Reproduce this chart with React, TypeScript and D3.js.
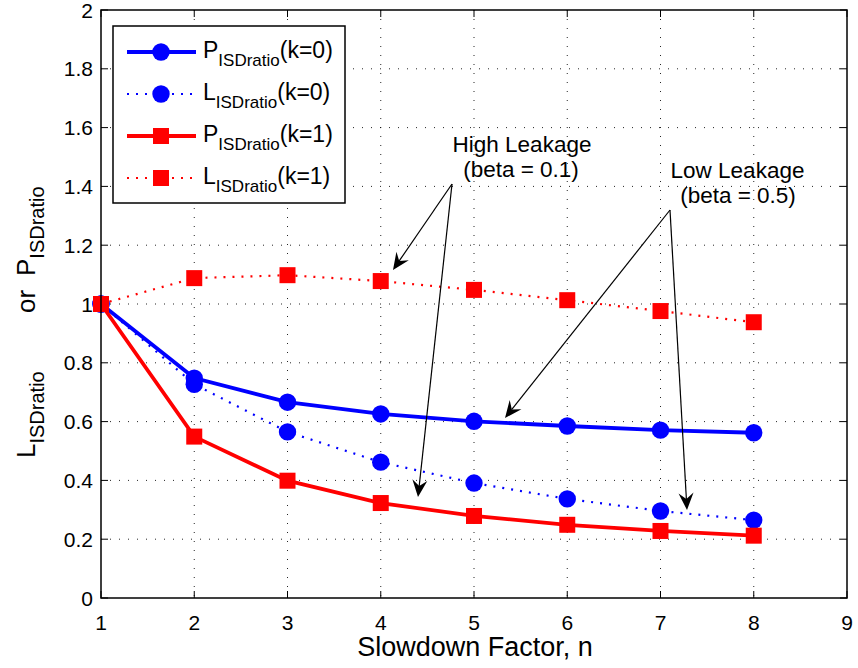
import React from "react";
import * as d3 from "d3";

const nValues = [1, 2, 3, 4, 5, 6, 7, 8];
const pK0 = [1, 0.748, 0.666, 0.626, 0.601, 0.585, 0.571, 0.562];
const lK0 = [1, 0.727, 0.565, 0.462, 0.391, 0.337, 0.296, 0.265];
const pK1 = [1, 0.549, 0.399, 0.323, 0.279, 0.249, 0.228, 0.212];
const lK1 = [1, 1.088, 1.098, 1.078, 1.048, 1.013, 0.976, 0.938];
const xTicks = [1, 2, 3, 4, 5, 6, 7, 8, 9];
const yTicks = [0, 0.2, 0.4, 0.6, 0.8, 1, 1.2, 1.4, 1.6, 1.8, 2];

const FONT = "Liberation Sans, Arial, Helvetica, sans-serif";

export default function App() {
  const W = 858, H = 668;
  const left = 101, right = 847, top = 10, bottom = 598;
  const x = d3.scaleLinear().domain([1, 9]).range([left, right]);
  const y = d3.scaleLinear().domain([0, 2]).range([bottom, top]);
  const line = d3.line<number>().x((_, i) => x(nValues[i])).y((d) => y(d));

  const series = [
    { vals: pK0, color: "#0000ff", dotted: false, marker: "circle", label: "P", k: "0" },
    { vals: lK0, color: "#0000ff", dotted: true, marker: "circle", label: "L", k: "0" },
    { vals: pK1, color: "#ff0000", dotted: false, marker: "square", label: "P", k: "1" },
    { vals: lK1, color: "#ff0000", dotted: true, marker: "square", label: "L", k: "1" },
  ];

  const marker = (m: string, cx: number, cy: number, color: string, key: any) =>
    m === "circle" ? (
      <circle key={key} cx={cx} cy={cy} r={8.7} fill={color} />
    ) : (
      <rect key={key} x={cx - 8} y={cy - 8} width={16} height={16} fill={color} />
    );

  const arrowHead = (x1: number, y1: number, x2: number, y2: number, key: string) => {
    const ang = Math.atan2(y2 - y1, x2 - x1);
    const L = 17, Wd = 7.5, notch = 11;
    const pt = (d: number, s: number) => {
      const px = x2 - d * Math.cos(ang) - s * Math.sin(ang);
      const py = y2 - d * Math.sin(ang) + s * Math.cos(ang);
      return `${px},${py}`;
    };
    return (
      <g key={key}>
        <line x1={x1} y1={y1} x2={x2 - notch * Math.cos(ang)} y2={y2 - notch * Math.sin(ang)} stroke="#000" strokeWidth={1.2} />
        <polygon points={`${x2},${y2} ${pt(L, Wd)} ${pt(notch, 0)} ${pt(L, -Wd)}`} fill="#000" />
      </g>
    );
  };

  const legendRows = [52, 94, 136, 178];

  return (
    <svg width={W} height={H} style={{ position: "absolute", left: 0, top: 0, background: "#fff" }} fontFamily={FONT}>
      <rect x={0} y={0} width={W} height={H} fill="#fff" />
      {/* grid */}
      {xTicks.slice(1, -1).map((t) => (
        <line key={"gx" + t} x1={x(t)} x2={x(t)} y1={top} y2={bottom} stroke="#000" strokeWidth={1} strokeDasharray="1,8" opacity={0.85} />
      ))}
      {yTicks.slice(1, -1).map((t) => (
        <line key={"gy" + t} x1={left} x2={right} y1={y(t)} y2={y(t)} stroke="#000" strokeWidth={1} strokeDasharray="1,8" opacity={0.85} />
      ))}
      {/* ticks */}
      {xTicks.map((t) => (
        <g key={"tx" + t}>
          <line x1={x(t)} x2={x(t)} y1={bottom} y2={bottom - 7} stroke="#000" />
          <line x1={x(t)} x2={x(t)} y1={top} y2={top + 7} stroke="#000" />
          <text x={x(t)} y={bottom + 32} textAnchor="middle" fontSize={21}>{t}</text>
        </g>
      ))}
      {yTicks.map((t) => (
        <g key={"ty" + t}>
          <line x1={left} x2={left + 7} y1={y(t)} y2={y(t)} stroke="#000" />
          <line x1={right} x2={right - 7} y1={y(t)} y2={y(t)} stroke="#000" />
          <text x={left - 8} y={y(t) + 7.5} textAnchor="end" fontSize={21}>{d3.format("~g")(t)}</text>
        </g>
      ))}
      {/* series */}
      {series.map((s, i) => (
        <g key={"s" + i}>
          <path d={line(s.vals) || ""} fill="none" stroke={s.color} strokeWidth={s.dotted ? 2.2 : 3.8} strokeDasharray={s.dotted ? "2,7" : undefined} />
          {s.vals.map((v, j) => marker(s.marker, x(nValues[j]), y(v), s.color, j))}
        </g>
      ))}
      {/* axes box */}
      <rect x={left} y={top} width={right - left} height={bottom - top} fill="none" stroke="#000" strokeWidth={1.5} />
      {/* legend */}
      <rect x={113} y={26} width={232} height={177} fill="#fff" stroke="#000" strokeWidth={1.5} />
      {series.map((s, i) => (
        <g key={"l" + i}>
          <line x1={127} x2={196} y1={legendRows[i]} y2={legendRows[i]} stroke={s.color} strokeWidth={s.dotted ? 2.2 : 3.8} strokeDasharray={s.dotted ? "2,7" : undefined} />
          {marker(s.marker, 161, legendRows[i], s.color, "m")}
          <text x={203} y={legendRows[i] + 6} fontSize={23}>
            {s.label}
            <tspan fontSize={17} dy={8}>ISDratio</tspan>
            <tspan dy={-8}>(k={s.k})</tspan>
          </text>
        </g>
      ))}
      {/* annotations */}
      <text x={522} y={152} textAnchor="middle" fontSize={22.5}>High Leakage</text>
      <text x={521} y={177} textAnchor="middle" fontSize={22.5}>(beta = 0.1)</text>
      <text x={737.5} y={178} textAnchor="middle" fontSize={22.5}>Low Leakage</text>
      <text x={738} y={203} textAnchor="middle" fontSize={22.5}>(beta = 0.5)</text>
      {arrowHead(452, 184, 393, 270, "a1")}
      {arrowHead(452, 184, 418, 497, "a2")}
      {arrowHead(670, 210, 505, 418, "a3")}
      {arrowHead(670, 210, 687, 510, "a4")}
      {/* axis labels */}
      <text x={475} y={656} textAnchor="middle" fontSize={27}>Slowdown Factor, n</text>
      <g transform="translate(35,0) rotate(-90)" fontSize={26}>
        <text x={-458} y={0}>
          L<tspan fontSize={20} dy={9}>ISDratio</tspan>
        </text>
        <text x={-313} y={0}>or</text>
        <text x={-276} y={0}>
          P<tspan fontSize={20} dy={9}>ISDratio</tspan>
        </text>
      </g>
    </svg>
  );
}
